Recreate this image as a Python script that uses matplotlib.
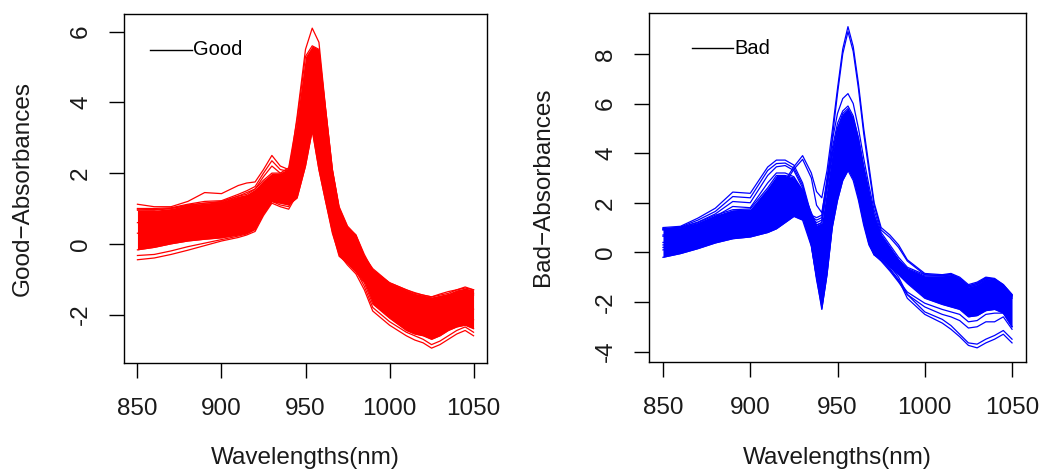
import matplotlib
matplotlib.use("Agg")
import matplotlib.pyplot as plt

plt.rcParams['font.family'] = ['Liberation Sans', 'DejaVu Sans']
plt.rcParams['axes.unicode_minus'] = False

# ---------------- Good samples (red) ----------------
wl_good = [850, 860, 870, 880, 890, 900, 910, 915, 920, 925, 930, 935, 940, 945, 950,
           954, 958, 962, 966, 970, 975, 980, 985, 990, 1000, 1010, 1015, 1020, 1025,
           1030, 1035, 1040, 1045, 1050]
# dense core of the Good spectra (upper / lower envelope)
good_core_top = [0.95, 0.95, 1.0, 1.1, 1.15, 1.2, 1.35, 1.4, 1.55, 1.8, 2.0, 2.0, 2.15, 3.5, 5.3,
                 5.6, 5.5, 3.8, 2.1, 1.05, 0.5, 0.25, -0.35, -0.7, -1.1, -1.3, -1.4, -1.45, -1.5,
                 -1.45, -1.4, -1.3, -1.25, -1.3]
good_core_bot = [-0.17, -0.1, 0.0, 0.08, 0.13, 0.17, 0.25, 0.3, 0.42, 0.85, 1.2, 1.15, 1.1, 1.3, 2.2,
                 3.2, 2.1, 1.2, 0.35, -0.35, -0.55, -0.8, -1.1, -1.7, -2.1, -2.45, -2.55, -2.6, -2.7,
                 -2.6, -2.45, -2.35, -2.3, -2.4]
# individual Good spectra
good_a = [1.12, 1.05, 1.05, 1.2, 1.45, 1.42, 1.65, 1.72, 1.75, 2.1, 2.5, 2.2, 2.1, 3.3, 5.0,
          5.4, 5.2, 3.5, 1.9, 0.9, 0.45, 0.25, -0.3, -0.75, -1.1, -1.3, -1.38, -1.45, -1.5,
          -1.42, -1.35, -1.3, -1.22, -1.3]
good_b = [1.0, 1.0, 1.02, 1.12, 1.2, 1.22, 1.4, 1.5, 1.62, 2.0, 2.35, 2.1, 2.05, 3.2, 4.9,
          5.3, 5.1, 3.4, 1.8, 0.85, 0.35, 0.15, -0.4, -0.85, -1.2, -1.4, -1.5, -1.55, -1.6,
          -1.5, -1.45, -1.4, -1.35, -1.4]
good_c = [0.98, 0.97, 1.0, 1.08, 1.15, 1.18, 1.35, 1.45, 1.55, 1.9, 2.2, 2.0, 2.0, 3.1, 4.7,
          5.1, 4.9, 3.3, 1.7, 0.8, 0.3, 0.1, -0.45, -0.9, -1.25, -1.45, -1.55, -1.6, -1.65,
          -1.55, -1.5, -1.45, -1.4, -1.45]
good_hi = [0.6, 0.62, 0.68, 0.75, 0.82, 0.85, 0.95, 1.0, 1.1, 1.5, 1.85, 1.8, 1.9, 3.6, 5.5,
           6.1, 5.7, 3.8, 2.1, 1.0, 0.4, 0.2, -0.5, -1.1, -1.6, -1.9, -2.0, -2.05, -2.15,
           -2.0, -1.9, -1.8, -1.75, -1.85]
good_lo = [0.3, 0.32, 0.4, 0.48, 0.55, 0.6, 0.7, 0.75, 0.85, 1.2, 1.5, 1.3, 1.25, 1.5, 2.4,
           3.3, 2.2, 1.3, 0.4, -0.2, -0.4, -0.6, -1.0, -1.5, -1.9, -2.2, -2.3, -2.35, -2.45,
           -2.3, -2.2, -2.1, -2.05, -2.15]
good_d1 = [-0.45, -0.4, -0.3, -0.18, -0.05, 0.08, 0.18, 0.25, 0.35, 0.8, 1.15, 1.05, 0.98, 1.4, 2.3,
           3.25, 2.1, 1.2, 0.3, -0.3, -0.6, -0.85, -1.3, -1.9, -2.3, -2.6, -2.72, -2.8, -2.95,
           -2.85, -2.7, -2.55, -2.45, -2.6]
good_d2 = [-0.33, -0.3, -0.2, -0.08, 0.02, 0.12, 0.22, 0.28, 0.4, 0.85, 1.2, 1.1, 1.05, 1.5, 2.5,
           3.4, 2.3, 1.3, 0.4, -0.25, -0.5, -0.75, -1.2, -1.8, -2.2, -2.5, -2.6, -2.7, -2.85,
           -2.75, -2.6, -2.45, -2.35, -2.5]

# ---------------- Bad samples (blue) ----------------
wl_bad = [850, 860, 870, 880, 890, 900, 910, 915, 920, 925, 930, 935, 938, 941, 944, 947, 950,
          953, 956, 959, 962, 965, 968, 971, 975, 980, 985, 990, 1000, 1010, 1015, 1020, 1025,
          1030, 1035, 1040, 1045, 1050]
bad_core_top = [0.95, 1.0, 1.2, 1.5, 1.72, 1.75, 2.6, 3.1, 3.1, 3.0, 2.5, 1.6,
                1.1, 1.2, 2.6, 4.0, 5.0, 5.6,
                5.8, 5.4, 4.6, 3.4, 2.4, 1.5,
                0.7, 0.2, -0.3, -0.65,
                -0.95, -0.95, -0.9, -1.1, -1.4, -1.3, -1.05, -1.1, -1.35, -1.75]
bad_core_bot = [-0.2, -0.05, 0.15, 0.38, 0.55, 0.62, 0.8, 0.95, 1.2, 1.45, 1.3, 0.25,
                -1.0, -2.3, -0.9, 1.0, 2.1, 2.9,
                3.3, 2.9, 2.1, 1.1, 0.3, -0.1,
                -0.25, -0.6, -0.9, -1.25,
                -1.85, -2.1, -2.2, -2.3, -2.6, -2.55, -2.35, -2.3, -2.45, -3.0]
bad_hi = [0.7, 0.8, 1.0, 1.25, 1.5, 1.5, 2.1, 2.5, 2.9, 3.45, 3.9, 3.2,
          2.45, 2.2, 3.3, 4.9, 6.6, 8.2,
          9.1, 8.3, 6.8, 5.0, 3.5, 2.0,
          1.0, 0.7, 0.3, -0.3,
          -0.85, -0.9, -0.85, -1.0, -1.3, -1.2, -1.0, -1.05, -1.3, -1.7]
bad_hi2 = [0.65, 0.75, 0.95, 1.2, 1.45, 1.45, 2.0, 2.4, 2.8, 3.35, 3.75, 3.0,
           1.9, 1.6, 2.8, 4.6, 6.4, 8.0,
           8.9, 8.1, 6.6, 4.8, 3.3, 1.9,
           0.9, 0.6, 0.2, -0.35,
           -0.9, -0.95, -0.9, -1.05, -1.35, -1.25, -1.05, -1.1, -1.35, -1.75]
bad_t1 = [1.0, 1.05, 1.38, 1.78, 2.43, 2.38, 3.44, 3.72, 3.72, 3.52, 2.8, 1.5,
          1.4, 1.5, 3.0, 4.5, 5.6, 6.2,
          6.4, 6.0, 5.0, 3.8, 2.7, 1.7,
          0.8, 0.3, -0.2, -0.6,
          -0.9, -0.92, -0.88, -1.05, -1.35, -1.25, -1.02, -1.08, -1.3, -1.7]
bad_t2 = [0.95, 1.02, 1.3, 1.65, 2.25, 2.2, 3.3, 3.58, 3.6, 3.4, 2.7, 1.45,
          1.3, 1.4, 2.8, 4.2, 5.2, 5.7,
          5.9, 5.5, 4.6, 3.5, 2.5, 1.5,
          0.7, 0.2, -0.3, -0.7,
          -1.0, -1.0, -0.95, -1.1, -1.4, -1.3, -1.1, -1.15, -1.35, -1.75]
bad_t3 = [0.92, 1.0, 1.22, 1.55, 2.05, 2.0, 3.1, 3.45, 3.5, 3.3, 2.6, 1.4,
          1.2, 1.3, 2.7, 4.0, 5.0, 5.5,
          5.7, 5.3, 4.4, 3.4, 2.4, 1.4,
          0.6, 0.15, -0.35, -0.75,
          -1.05, -1.05, -1.0, -1.15, -1.45, -1.35, -1.15, -1.2, -1.4, -1.8]
bad_t4 = [0.9, 0.98, 1.15, 1.45, 1.85, 1.8, 2.8, 3.2, 3.2, 3.05, 2.5, 1.35,
          1.1, 1.2, 2.6, 3.9, 4.9, 5.4,
          5.6, 5.2, 4.3, 3.3, 2.3, 1.3,
          0.55, 0.1, -0.4, -0.8,
          -1.1, -1.1, -1.05, -1.2, -1.5, -1.4, -1.2, -1.25, -1.45, -1.85]
bad_l1 = [0.4, 0.45, 0.6, 0.8, 1.0, 1.0, 1.5, 1.8, 2.0, 2.1, 1.8, 0.6,
          -0.5, -1.5, -0.2, 1.6, 3.0, 3.9,
          4.2, 3.8, 2.9, 1.8, 0.8, 0.0,
          -0.3, -0.65, -1.1, -1.85,
          -2.5, -2.85, -3.1, -3.4, -3.75, -3.85, -3.65, -3.5, -3.3, -3.65]
bad_l2 = [0.3, 0.35, 0.5, 0.7, 0.9, 0.9, 1.35, 1.6, 1.8, 1.95, 1.6, 0.4,
          -0.8, -1.8, -0.5, 1.3, 2.7, 3.6,
          3.9, 3.5, 2.6, 1.5, 0.6, -0.05,
          -0.2, -0.55, -1.0, -1.7,
          -2.4, -2.7, -2.95, -3.3, -3.65, -3.7, -3.5, -3.35, -3.15, -3.5]
bad_l3 = [0.2, 0.3, 0.45, 0.6, 0.8, 0.8, 1.2, 1.4, 1.6, 1.8, 1.5, 0.3,
          -1.0, -2.0, -0.6, 1.2, 2.5, 3.4,
          3.7, 3.3, 2.4, 1.3, 0.4, -0.1,
          -0.35, -0.75, -1.2, -1.7,
          -2.2, -2.5, -2.6, -2.75, -3.05, -3.0, -2.8, -2.8, -2.6, -3.1]
bad_l4 = [0.1, 0.2, 0.35, 0.55, 0.7, 0.72, 1.05, 1.25, 1.45, 1.65, 1.45, 0.3,
          -1.1, -2.2, -0.8, 1.1, 2.3, 3.2,
          3.5, 3.1, 2.2, 1.2, 0.35, -0.1,
          -0.3, -0.7, -1.15, -1.6,
          -2.05, -2.3, -2.4, -2.5, -2.8, -2.75, -2.5, -2.45, -2.45, -3.0]

x_ticks = [850, 900, 950, 1000, 1050]
good_yticks = [-2, 0, 2, 4, 6]
bad_yticks = [-4, -2, 0, 2, 4, 6, 8]

TXT = '#1a1a1a'
TICK_FS = 17.5

fig = plt.figure(figsize=(10.51, 4.75), dpi=100)
ax1 = fig.add_axes([124/1051, 1-363/475, 363/1051, 349/475])
ax2 = fig.add_axes([649/1051, 1-362/475, 377/1051, 349/475])


def draw_panel(ax, wl, top, bot, lines, color, ylim, yticks):
    ax.fill_between(wl, bot, top, color=color, linewidth=0)
    ax.plot(wl, top, color=color, lw=0.9)
    ax.plot(wl, bot, color=color, lw=0.9)
    for ln in lines:
        ax.plot(wl, ln, color=color, lw=0.9)
    ax.set_xlim(842, 1058)
    ax.set_ylim(*ylim)
    ax.set_xticks(x_ticks)
    ax.set_yticks(yticks)
    ax.set_xticklabels([str(t) for t in x_ticks])
    ax.set_yticklabels([str(t) for t in yticks])
    ax.tick_params(direction='out', length=11, width=1.0, labelsize=TICK_FS,
                   colors='black', labelcolor=TXT)
    ax.tick_params(axis='x', pad=14)
    ax.tick_params(axis='y', pad=12)
    plt.setp(ax.get_yticklabels(), rotation=90, va='center')
    for s in ax.spines.values():
        s.set_linewidth(1.0)


draw_panel(ax1, wl_good, good_core_top, good_core_bot,
           [good_a, good_b, good_c, good_hi, good_lo, good_d1, good_d2],
           '#ff0000', (-3.37, 6.5), good_yticks)
draw_panel(ax2, wl_bad, bad_core_top, bad_core_bot,
           [bad_hi, bad_hi2, bad_t1, bad_t2, bad_t3, bad_t4, bad_l1, bad_l2, bad_l3, bad_l4],
           '#0000ff', (-4.42, 9.65), bad_yticks)

# legends (line + label, no frame)
ax1.plot([0.0716, 0.187], [0.897, 0.897], color='black', lw=1.0, transform=ax1.transAxes)
ax1.text(0.19, 0.897, 'Good', transform=ax1.transAxes, fontsize=14.5, color='black',
         va='center', ha='left')
ax2.plot([0.113, 0.224], [0.899, 0.899], color='black', lw=1.0, transform=ax2.transAxes)
ax2.text(0.227, 0.899, 'Bad', transform=ax2.transAxes, fontsize=14.5, color='black',
         va='center', ha='left')

# axis titles
fig.text(305.5/1051, 0.012, 'Wavelengths(nm)', fontsize=TICK_FS, color=TXT,
         ha='center', va='bottom')
fig.text(837.5/1051, 0.012, 'Wavelengths(nm)', fontsize=TICK_FS, color=TXT,
         ha='center', va='bottom')
fig.text(23/1051, 1-188/475, 'Good\u2212Absorbances', fontsize=TICK_FS, color=TXT,
         rotation=90, ha='center', va='center')
fig.text(543/1051, 1-187/475, 'Bad\u2212Absorbances', fontsize=TICK_FS, color=TXT,
         rotation=90, ha='center', va='center')

fig.savefig('out.png', dpi=100)
